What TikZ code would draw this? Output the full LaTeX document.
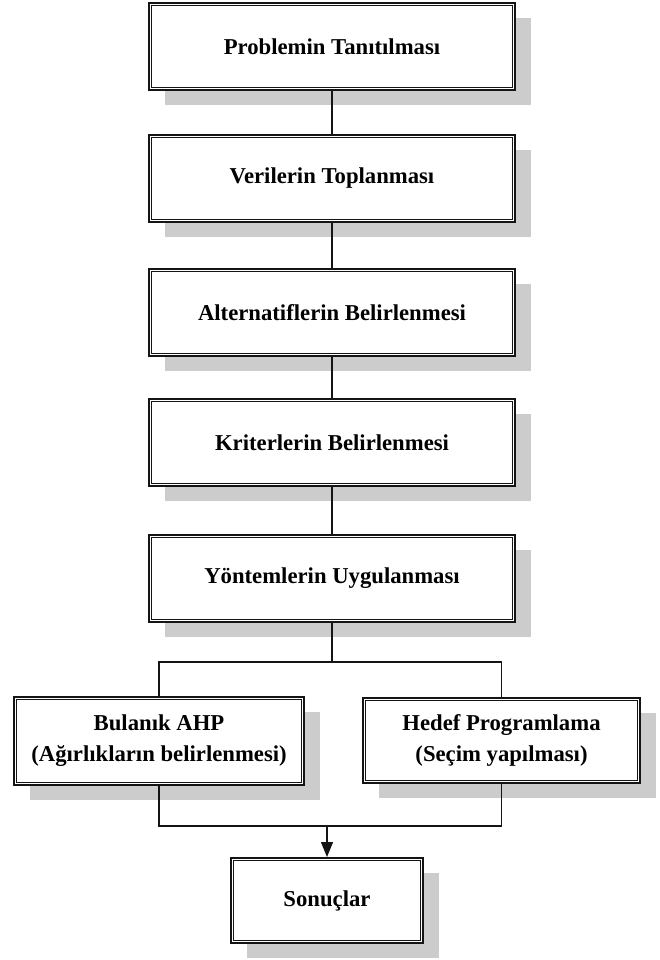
\documentclass[tikz,border=0pt]{standalone}
\usepackage{fontspec}
\setmainfont{Liberation Serif}
\usetikzlibrary{shadows,arrows.meta}
\definecolor{shadowgray}{RGB}{204,204,204}
\definecolor{linecol}{RGB}{20,20,20}
\begin{document}
\begin{tikzpicture}[x=1pt,y=-1pt,
  stepbox/.style={draw=linecol, line width=2pt, fill=white, minimum width=366pt, minimum height=87pt,
    inner sep=0pt, align=center, font=\bfseries\fontsize{22.7}{31}\selectfont,
    drop shadow={shadow xshift=16pt, shadow yshift=-15pt, fill=shadowgray, opacity=1, draw=none}},
  innerline/.style={draw=linecol, line width=1pt},
  conn/.style={draw=linecol, line width=1.3pt},
  arrowconn/.style={conn, -{Triangle[length=15pt,width=12pt]}}]
\useasboundingbox[fill=white] (0,0) rectangle (659,960);

\node[stepbox] (b1) at (332,46.5) {Problemin Tanıtılması};
\node[stepbox] (b2) at (332,178.5) {Verilerin Toplanması};
\node[stepbox] (b3) at (332,312.5) {Alternatiflerin Belirlenmesi};
\node[stepbox] (b4) at (332,442.5) {Kriterlerin Belirlenmesi};
\node[stepbox] (b5) at (332,578) {Yöntemlerin Uygulanması};
\node[stepbox, minimum width=290pt, minimum height=88pt] (bl) at (159,741) {Bulanık AHP\\(Ağırlıkların belirlenmesi)};
\node[stepbox, minimum width=277pt, minimum height=85pt] (br) at (501.5,740.5) {Hedef Programlama\\(Seçim yapılması)};
\node[stepbox, minimum width=192pt, minimum height=85pt] (bs) at (327,900.5) {Sonuçlar};

\foreach \n in {b1,b2,b3,b4,b5,bl,br,bs}
  \draw[innerline] ([xshift=3.5pt,yshift=-3.5pt]\n.north west) rectangle ([xshift=-3.5pt,yshift=3.5pt]\n.south east);

\coordinate (split) at (332,662);
\coordinate (join) at (327,826);

\draw[conn] (b1) -- (b2);
\draw[conn] (b2) -- (b3);
\draw[conn] (b3) -- (b4);
\draw[conn] (b4) -- (b5);
\draw[conn] (b5.south) -- (split);
\draw[conn] (bl.north) |- (split) -| (br.north);
\draw[conn] (bl.south) |- (join) -| (br.south);
\draw[arrowconn] (join) -- (bs.north);
\end{tikzpicture}
\end{document}
